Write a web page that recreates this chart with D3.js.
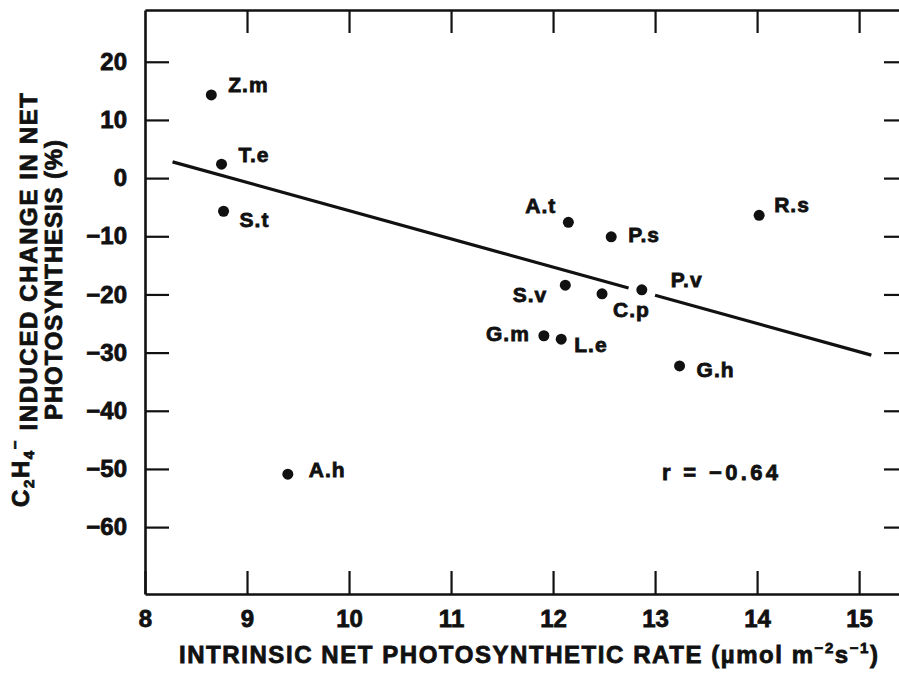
<!DOCTYPE html>
<html>
<head>
<meta charset="utf-8">
<script src="https://cdn.jsdelivr.net/npm/d3@7"></script>
<style>
  body { margin: 0; background: #fff; }
  svg { display: block; font-family: "Liberation Sans", Arial, sans-serif; font-weight: bold; }
  text { stroke: #111; stroke-width: 0.8px; }
</style>
</head>
<body>
<svg class="chart"></svg>
<script>
const width = 899;
const height = 673;

// data
const species = ['Z.m', 'T.e', 'S.t', 'A.h', 'A.t', 'P.s', 'S.v', 'C.p', 'P.v', 'G.m', 'L.e', 'G.h', 'R.s'];
const netRate = [8.65, 8.75, 8.77, 9.40, 12.15, 12.57, 12.12, 12.48, 12.87, 11.91, 12.08, 13.24, 14.02];
const change = [14.3, 2.4, -5.7, -50.9, -7.6, -10.1, -18.4, -19.9, -19.2, -27.1, -27.7, -32.3, -6.4];
const xTicks = [8, 9, 10, 11, 12, 13, 14, 15];
const yTicks = [-60, -50, -40, -30, -20, -10, 0, 10, 20];
const fitIntercept = 42.9;
const fitSlope = -4.85;
const fitSegments = [[8.27, 12.74], [13.0, 15.12]]; // line is broken around P.v
const rText = 'r = \u22120.64';

// where each label sits relative to its dot
const labelPos = {
  'Z.m': [17, -3, 'start'], 'T.e': [17, -2, 'start'], 'S.t': [16, 16, 'start'],
  'A.h': [21, 3, 'start'], 'A.t': [-12, -9, 'end'], 'P.s': [17, 5, 'start'],
  'S.v': [-18, 17, 'end'], 'C.p': [11, 23, 'start'], 'P.v': [29, -3, 'start'],
  'G.m': [-14, 5, 'end'], 'L.e': [13, 13, 'start'], 'G.h': [17, 11, 'start'],
  'R.s': [15, -3, 'start']
};

const svg = d3.select('.chart').attr('width', width).attr('height', height);

const x = d3.scaleLinear().domain([8, 15.44]).range([145, 904]);
const y = d3.scaleLinear().domain([-71.5, 28.9]).range([594, 10]);

function fitWidth(sel, target) {
  const n = sel.text().length;
  const w = sel.node().getComputedTextLength();
  sel.attr('letter-spacing', (target - w) / (n - 1));
}

function styleAxis(g) {
  g.select('.domain').attr('stroke', '#111').attr('stroke-width', 2.6);
  g.selectAll('.tick line').attr('stroke', '#111').attr('stroke-width', 2.2);
  g.selectAll('.tick text').attr('fill', '#111').style('font-size', '24px')
    .style('font-family', '"Liberation Sans", Arial, sans-serif').style('font-weight', 'bold');
}

// axes, ticks point inwards
svg.append('g').attr('transform', 'translate(0,594)')
  .call(d3.axisBottom(x).tickValues(xTicks).tickSize(-23).tickSizeOuter(0).tickPadding(16))
  .call(styleAxis);
svg.append('g').attr('transform', 'translate(0,10)')
  .call(d3.axisTop(x).tickValues(xTicks.slice(1)).tickSize(-23).tickSizeOuter(0).tickFormat(''))
  .call(styleAxis);
svg.append('g').attr('transform', 'translate(145,0)')
  .call(d3.axisLeft(y).tickValues(yTicks).tickSize(-24).tickSizeOuter(0).tickPadding(18))
  .call(styleAxis);
svg.append('g').attr('transform', 'translate(904,0)')
  .call(d3.axisRight(y).tickValues(yTicks).tickSize(-20).tickSizeOuter(0).tickFormat(''))
  .call(styleAxis);

// regression line
const line = d3.line().x(d => x(d)).y(d => y(fitIntercept + fitSlope * d));
svg.append('g').selectAll('path')
  .data(fitSegments)
  .join('path')
  .attr('d', line)
  .attr('fill', 'none')
  .attr('stroke', '#111')
  .attr('stroke-width', 3.2);

// points
const pts = species.map((s, i) => ({ name: s, rate: netRate[i], change: change[i] }));
svg.append('g').selectAll('circle')
  .data(pts)
  .join('circle')
  .attr('cx', d => x(d.rate))
  .attr('cy', d => y(d.change))
  .attr('r', 5.5)
  .attr('fill', '#111');

svg.append('g').selectAll('text')
  .data(pts)
  .join('text')
  .attr('x', d => x(d.rate) + labelPos[d.name][0])
  .attr('y', d => y(d.change) + labelPos[d.name][1])
  .attr('text-anchor', d => labelPos[d.name][2])
  .attr('font-size', 21)
  .attr('letter-spacing', 1)
  .attr('fill', '#111')
  .text(d => d.name);

// r value
const rLabel = svg.append('text')
  .attr('x', 662).attr('y', 480)
  .attr('font-size', 22)
  .attr('fill', '#111')
  .text(rText);
fitWidth(rLabel, 116);

// x title
const xTitle = svg.append('text')
  .attr('x', 179).attr('y', 663)
  .attr('font-size', 24)
  .attr('fill', '#111');
xTitle.append('tspan').text('INTRINSIC NET PHOTOSYNTHETIC RATE (\u00b5mol m');
xTitle.append('tspan').attr('font-size', 15).attr('dy', -10).text('\u22122');
xTitle.append('tspan').attr('dy', 10).text('s');
xTitle.append('tspan').attr('font-size', 15).attr('dy', -10).text('\u22121');
xTitle.append('tspan').attr('dy', 10).text(')');
fitWidth(xTitle, 699);

// y title, two lines
const yTitle1 = svg.append('text')
  .attr('transform', 'translate(37,507) rotate(-90)')
  .attr('font-size', 24)
  .attr('fill', '#111');
yTitle1.append('tspan').attr('dy', -8).text('C');
yTitle1.append('tspan').attr('font-size', 15).attr('dy', 5).text('2');
yTitle1.append('tspan').attr('dy', -5).text('H');
yTitle1.append('tspan').attr('font-size', 15).attr('dy', 5).text('4');
yTitle1.append('tspan').attr('font-size', 15).attr('dy', -14).text('\u2212');
yTitle1.append('tspan').attr('dy', 17).text(' INDUCED CHANGE IN NET');
fitWidth(yTitle1, 414);

const yTitle2 = svg.append('text')
  .attr('transform', 'translate(62,420) rotate(-90)')
  .attr('font-size', 24)
  .attr('fill', '#111')
  .text('PHOTOSYNTHESIS (%)');
fitWidth(yTitle2, 280);
</script>
</body>
</html>
